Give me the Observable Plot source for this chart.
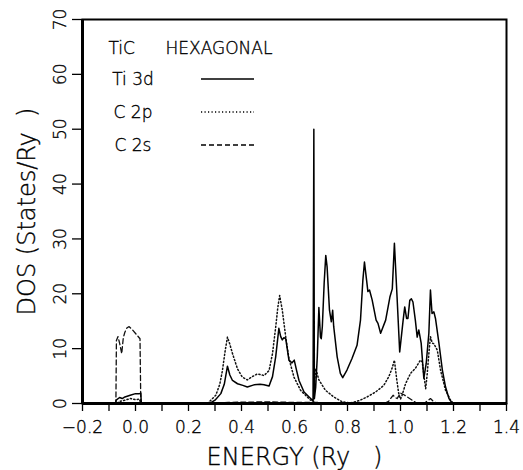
<!DOCTYPE html>
<html>
<head>
<meta charset="utf-8">
<script src="https://cdn.jsdelivr.net/npm/d3@7"></script>
<script src="https://cdn.jsdelivr.net/npm/@observablehq/plot@0.6"></script>
<style>
  html, body { margin: 0; padding: 0; background: #fff; }
  #chart svg { display: block; }
  #chart svg text { font-weight: 200; stroke: #000; stroke-width: 0.35px; }
</style>
</head>
<body>
<div id="chart"></div>
<script>
// ---- data ----
const tiX = [-0.2,-0.075,-0.073,-0.06,-0.05,-0.04,-0.02,0.0,0.015,0.02,0.022,0.28,0.3,0.322,0.335,0.347,0.356,0.366,0.385,0.405,0.422,0.447,0.47,0.485,0.504,0.517,0.529,0.541,0.548,0.554,0.56,0.567,0.579,0.59,0.599,0.608,0.617,0.636,0.655,0.67,0.673,0.675,0.68,0.686,0.692,0.698,0.701,0.705,0.712,0.718,0.723,0.732,0.739,0.744,0.748,0.761,0.773,0.782,0.798,0.817,0.836,0.849,0.858,0.864,0.872,0.877,0.883,0.893,0.908,0.915,0.925,0.944,0.96,0.969,0.977,0.987,0.997,1.01,1.016,1.023,1.028,1.035,1.041,1.047,1.056,1.063,1.069,1.078,1.088,1.097,1.107,1.113,1.119,1.126,1.132,1.145,1.158,1.17,1.183,1.196,1.4];
const tiY = [0,0,0.6,1.1,0.9,1.2,1.5,1.8,1.8,1.9,0,0,0.6,1.8,3.5,6.8,5.2,4.2,3.6,3.3,3.0,3.4,3.5,3.4,3.2,4.9,8.5,13.7,12.2,11.6,12.0,11.8,7.9,7.4,7.9,6.0,4.2,2.1,1.2,0.5,50,0.9,3,8.5,17.5,12.1,11.8,14,22,27.0,24.9,17.0,14.9,17.0,14.0,8.5,5.5,4.7,6.1,8.2,10.6,15.2,22.5,25.8,22.5,20.4,20.7,18.9,15.2,14.6,12.8,15.2,19.4,20.9,29.2,19.4,9.4,15.2,17.6,15.5,15.5,18.8,19.1,18.5,15.2,12.1,13.4,11.0,4.6,7.3,12.8,20.7,16.4,16.7,15.5,11.0,6.1,3.0,0.9,0,0];

const c2pX = [-0.2,-0.07,-0.06,-0.04,-0.02,0.0,0.015,0.02,0.27,0.278,0.303,0.318,0.328,0.338,0.347,0.356,0.366,0.385,0.403,0.422,0.441,0.46,0.485,0.504,0.517,0.529,0.537,0.544,0.554,0.567,0.579,0.598,0.623,0.648,0.661,0.672,0.676,0.68,0.692,0.717,0.748,0.78,0.812,0.843,0.874,0.906,0.937,0.956,0.968,0.977,0.986,0.993,1.0,1.006,1.019,1.038,1.056,1.075,1.082,1.09,1.095,1.101,1.107,1.113,1.12,1.126,1.139,1.151,1.17,1.189,1.2,1.4];
const c2pY = [0,0,0.4,0.6,0.9,0.7,0.8,0,0,0.3,1.5,3.5,6.0,9.5,12.1,10.8,9.1,6.3,4.8,4.3,4.9,5.4,5.1,6.0,9.1,13.9,17.5,19.7,17.0,12.1,8.2,4.8,2.4,1.2,0.6,0.3,4,6.4,4.3,2.4,1.2,0.3,0.1,0.5,1.2,2.1,3.3,4.9,6.4,7.9,4.3,1.9,0.8,1.5,3.6,5.5,6.4,7.9,7.6,4.5,2.7,5.5,9.1,12.2,11.0,10.9,9.7,6.1,2.4,0.6,0,0];

const c2sX = [-0.2,-0.074,-0.072,-0.066,-0.06,-0.052,-0.046,-0.04,-0.032,-0.024,-0.011,0.005,0.017,0.02,0.29,0.35,0.5,0.6,0.68,0.8,0.94,0.955,0.972,0.98,0.987,1.0,1.013,1.025,1.044,1.06,1.09,1.1,1.113,1.126,1.14,1.4];
const c2sY = [0,0,11.5,12.2,11.0,9.1,12.0,13.0,13.8,14.0,13.4,12.5,11.8,0,0,0.2,0.3,0.2,0.2,0,0,0.4,1.5,1.1,0.9,1.9,1.6,1.2,0.6,0.1,0.1,0.4,0.9,0.3,0,0];

const xMinorTicks = [-0.2,-0.1,0,0.1,0.2,0.3,0.4,0.5,0.6,0.7,0.8,0.9,1.0,1.1,1.2,1.3,1.4];
const xTickValues = [-0.2,0,0.2,0.4,0.6,0.8,1.0,1.2,1.4];
const xTickLabels = ["\u22120.2","0.0","0.2","0.4","0.6","0.8","1.0","1.2","1.4"];
const yTickValues = [0,10,20,30,40,50,60,70];
const yTickLabels = ["0","10","20","30","40","50","60","70"];
const legendNames = ["Ti 3d","C 2p","C 2s"];
const titleParts = ["TiC","HEXAGONAL"];
const xLabel = "ENERGY (Ry\u00a0\u00a0\u00a0)";
const yLabel = "DOS (States/Ry\u00a0\u00a0)";

// ---- build tables ----
const ti = tiX.map((x, i) => ({x, y: tiY[i]}));
const c2p = c2pX.map((x, i) => ({x, y: c2pY[i]}));
const c2s = c2sX.map((x, i) => ({x, y: c2sY[i]}));
const dashes = [null, "1.2,2.3", "5,3"];

const W = 523, H = 470;
const mL = 82, mR = 17, mT = 19, mB = 67;
const FONT = "'DejaVu Sans', sans-serif";

const chart = Plot.plot({
  width: W,
  height: H,
  marginLeft: mL, marginRight: mR, marginTop: mT, marginBottom: mB,
  x: {domain: [-0.2, 1.4]},
  y: {domain: [0, 70]},
  style: {background: "#fff", color: "#000", fontFamily: FONT},
  marks: [
    Plot.line(c2s, {x: "x", y: "y", stroke: "#111", strokeWidth: 1.3, strokeDasharray: dashes[2]}),
    Plot.line(c2p, {x: "x", y: "y", stroke: "#111", strokeWidth: 1.5, strokeDasharray: dashes[1]}),
    Plot.line(ti, {x: "x", y: "y", stroke: "#000", strokeWidth: 1.5}),
    Plot.frame({stroke: "#000", strokeWidth: 2}),
    Plot.ruleY([0], {stroke: "#000", strokeWidth: 3}),
    Plot.ruleX([-0.2], {stroke: "#000", strokeWidth: 3}),
    Plot.axisX(xMinorTicks, {tickSize: 8, tickFormat: () => "", label: null, strokeWidth: 1.3}),
    Plot.axisY(yTickValues, {tickSize: 10, tickFormat: () => "", label: null, strokeWidth: 1.3}),
    Plot.text(xTickValues, {x: d => d, text: (d, i) => xTickLabels[i], frameAnchor: "bottom", dy: 24, textAnchor: "middle", lineAnchor: "middle", fontSize: 17, fill: "#000"}),
    Plot.text(yTickValues, {y: d => d, text: (d, i) => yTickLabels[i], frameAnchor: "left", dx: -22, rotate: -90, textAnchor: "middle", lineAnchor: "middle", fontSize: 17, fill: "#000"}),
    Plot.text([xLabel], {text: d => d, frameAnchor: "bottom", dy: 54, textAnchor: "middle", lineAnchor: "middle", fontSize: 24, fill: "#000"}),
    Plot.text([yLabel], {text: d => d, frameAnchor: "left", dx: -55, rotate: -90, textAnchor: "middle", lineAnchor: "middle", fontSize: 24, fill: "#000"}),
    Plot.text([titleParts[0]], {text: d => d, frameAnchor: "top-left", dx: 26, dy: 34, textAnchor: "start", lineAnchor: "bottom", fontSize: 17, fill: "#000"}),
    Plot.text([titleParts[1]], {text: d => d, frameAnchor: "top-left", dx: 83, dy: 34, textAnchor: "start", lineAnchor: "bottom", fontSize: 17, fill: "#000"})
  ]
});

document.getElementById("chart").appendChild(chart);

// legend rows (layout only)
const svg = d3.select(chart);
const lg = svg.append("g").attr("transform", `translate(${mL},${mT})`)
  .attr("font-family", FONT).attr("font-size", 17);
legendNames.forEach((name, i) => {
  const yBase = 66 + i * 33;
  lg.append("text").attr("x", 51).attr("y", yBase).attr("fill", "#000").text(name);
  lg.append("line").attr("x1", 119).attr("x2", 172).attr("y1", yBase - 6).attr("y2", yBase - 6)
    .attr("stroke", "#000").attr("stroke-width", 1.3)
    .attr("stroke-dasharray", dashes[i]);
});
</script>
</body>
</html>
